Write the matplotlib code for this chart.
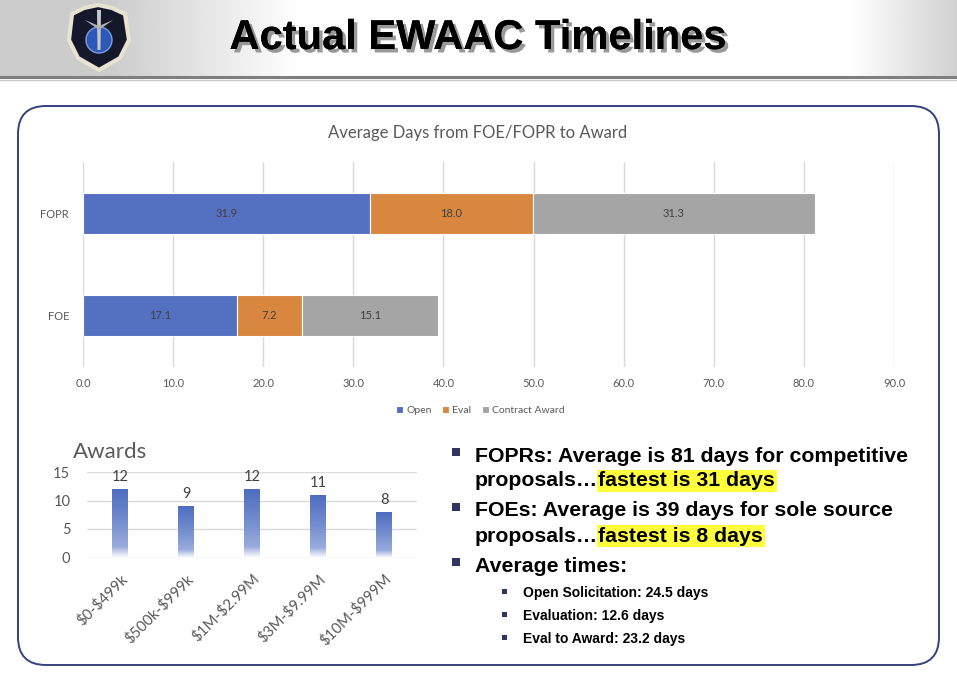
import numpy as np
import matplotlib
matplotlib.use("Agg")
import matplotlib.pyplot as plt
from matplotlib.patches import FancyBboxPatch, Rectangle, Polygon, Circle
from matplotlib.colors import LinearSegmentedColormap
import matplotlib.patheffects as pe

# ---------------- data ----------------
timeline_categories = ["FOE", "FOPR"]
open_days = [17.1, 31.9]
eval_days = [7.2, 18.0]
award_days = [15.1, 31.3]
series_names = ["Open", "Eval", "Contract Award"]
x_ticks = [0, 10, 20, 30, 40, 50, 60, 70, 80, 90]

award_categories = ["$0-$499k", "$500k-$999k", "$1M-$2.99M", "$3M-$9.99M", "$10M-$999M"]
award_counts = [12, 9, 12, 11, 8]
award_yticks = [0, 5, 10, 15]

title = "Actual EWAAC Timelines"
chart_title = "Average Days from FOE/FOPR to Award"
awards_title = "Awards"

# ---------------- figure ----------------
W, H = 957, 682
fig = plt.figure(figsize=(W / 100, H / 100), dpi=100)
fig.patch.set_facecolor("white")

bg = fig.add_axes([0, 0, 1, 1], zorder=0)
bg.set_xlim(0, W)
bg.set_ylim(H, 0)
bg.axis("off")

# header gradient
xs = np.linspace(0, W, 600)
left = np.clip((xs - 110) / (300 - 110), 0, 1)
right = np.clip((xs - 850) / (957 - 850), 0, 1)
g = 1 - 0.2 * (1 - left) - 0.18 * right
bg.imshow(np.tile(g, (2, 1)), extent=(0, W, 77, 0), cmap="gray", vmin=0, vmax=1,
          aspect="auto", zorder=0)
bg.plot([0, W], [77, 77], color="#7F7F7F", lw=2.2, zorder=1)
bg.plot([0, W], [79.5, 79.5], color="#C8C8C8", lw=1, zorder=1)

# simple shield logo
shield = Polygon([(72, 14), (84, 8), (98, 5), (112, 8), (125, 14), (129, 40), (120, 58), (99, 70), (78, 58), (69, 40)],
                 closed=True, facecolor="#15182A", edgecolor="#E8E2D0", lw=3, zorder=2)
bg.add_patch(shield)
bg.add_patch(Circle((99, 40), 13, facecolor="#2E58B8", edgecolor="#7E9CDB", lw=1, zorder=3))
bg.add_patch(Polygon([(97, 10), (101, 10), (100.5, 50), (97.5, 50)], facecolor="#C8C8C8", zorder=4))
bg.add_patch(Polygon([(85, 20), (99, 30), (113, 20), (99, 26)], facecolor="#B0B0B0", zorder=4))

bg.text(478, 38, title, ha="center", va="center", fontsize=30, fontweight="bold",
        family="Liberation Sans", color="black", zorder=5,
        path_effects=[pe.withSimplePatchShadow(offset=(2.5, -2.5), shadow_rgbFace="#808080", alpha=0.8),
                      pe.Normal()])

# rounded frame
frame = FancyBboxPatch((18, 106), 921, 559, boxstyle="round,pad=0,rounding_size=28",
                       facecolor="white", edgecolor="#33427D", lw=1.4, zorder=1)
bg.add_patch(frame)

# ---------------- top stacked bar chart ----------------
gray_txt = "#595959"
c_open, c_eval, c_award = "#5470C0", "#D9873F", "#A5A5A5"

ax = fig.add_axes([83 / W, 1 - 367 / H, (894 - 83) / W, (367 - 162) / H], zorder=2)
ax.patch.set_alpha(0)
y = np.arange(len(timeline_categories))
b1 = ax.barh(y, open_days, height=0.4, color=c_open, edgecolor="white", lw=0.8, label=series_names[0], zorder=3)
b2 = ax.barh(y, eval_days, left=open_days, height=0.4, color=c_eval, edgecolor="white", lw=0.8,
             label=series_names[1], zorder=3)
left2 = [a + b for a, b in zip(open_days, eval_days)]
b3 = ax.barh(y, award_days, left=left2, height=0.4, color=c_award, edgecolor="white", lw=0.8,
             label=series_names[2], zorder=3)
for bars, vals in ((b1, open_days), (b2, eval_days), (b3, award_days)):
    ax.bar_label(bars, labels=[f"{v:.1f}" for v in vals], label_type="center",
                 fontsize=8, color="#404040", family="Lato")
ax.set_xlim(0, 90)
ax.set_ylim(-0.5, 1.5)
ax.set_xticks(x_ticks)
ax.set_xticklabels([f"{v:.1f}" for v in x_ticks], fontsize=8, color=gray_txt, family="Lato")
ax.set_yticks(y)
ax.set_yticklabels(timeline_categories, fontsize=8, color=gray_txt, family="Lato")
ax.tick_params(length=0, pad=8)
ax.tick_params(axis="y", pad=10)
ax.grid(axis="x", color="#D9D9D9", lw=1, zorder=0)
for s in ax.spines.values():
    s.set_visible(False)
ax.legend(loc="upper center", bbox_to_anchor=(0.49, -0.145), ncol=3, frameon=False,
          prop={"family": "Lato", "size": 7.5}, labelcolor=gray_txt, handlelength=0.7,
          handleheight=0.7, handletextpad=0.3, columnspacing=1.0)
fig.text(478 / W, 1 - 133 / H, chart_title, ha="center", va="center", fontsize=12,
         color=gray_txt, family="Lato")

# ---------------- awards chart ----------------
ax2 = fig.add_axes([87 / W, 1 - 557.5 / H, (417 - 87) / W, (557.5 - 472) / H], zorder=2)
ax2.patch.set_alpha(0)
xa = np.arange(len(award_categories))
bars = ax2.bar(xa, award_counts, width=0.23, color="none", edgecolor="none", zorder=3)
cmap = LinearSegmentedColormap.from_list(
    "fade", [(0.0, "#FFFFFF"), (0.06, "#DDE3F3"), (0.16, "#9AACDD"), (0.5, "#7790D0"), (1.0, "#4E6DC0")])
grad = np.linspace(0, 1, 256).reshape(-1, 1)
for r in bars:
    x0, w, h = r.get_x(), r.get_width(), r.get_height()
    im = ax2.imshow(grad, extent=[x0, x0 + w, 0, h], origin="lower", aspect="auto",
                    cmap=cmap, zorder=3)
    im.set_clip_path(r)
for xi, v in zip(xa, award_counts):
    ax2.annotate(str(v), (xi, v), xytext=(0, 3.5), textcoords="offset points", ha="center",
                 va="bottom", fontsize=10.5, color="#404040", family="Lato")
ax2.set_xlim(-0.5, len(award_categories) - 0.5)
ax2.set_ylim(0, 15)
ax2.set_yticks(award_yticks)
ax2.set_yticklabels([str(v) for v in award_yticks], fontsize=10.5, color=gray_txt, family="Lato")
ax2.set_xticks(xa)
ax2.set_xticklabels([c.replace("$", r"\$") for c in award_categories], rotation=45, ha="right",
                    rotation_mode="anchor", fontsize=10.8, color=gray_txt, family="Lato")
ax2.tick_params(length=0)
ax2.tick_params(axis="x", pad=10)
ax2.tick_params(axis="y", pad=12)
ax2.grid(axis="y", color="#D9D9D9", lw=1, zorder=0)
ax2.set_axisbelow(True)
for s in ax2.spines.values():
    s.set_visible(False)
fig.text(73 / W, 1 - 452 / H, awards_title, ha="left", va="center", fontsize=16,
         color=gray_txt, family="Lato")

# ---------------- bullet text ----------------
navy = "#2F3561"
fk = dict(family="Liberation Sans", fontweight="bold", color="black", zorder=5)
hl = dict(boxstyle="square,pad=0.08", facecolor="#FFFF3C", edgecolor="none")
FS = 15.3


def bullet(xc, yc, size):
    bg.add_patch(Rectangle((xc - size / 2, yc - size / 2), size, size, facecolor=navy,
                           edgecolor="none", zorder=5))


bullet(456, 451.5, 8)
bg.text(475, 456, "FOPRs: Average is 81 days for competitive", va="center", ha="left", fontsize=FS, **fk)
t = bg.text(475, 481, "proposals\u2026", va="center", ha="left", fontsize=FS, **fk)
bg.annotate("fastest is 31 days", xy=(1, 0.5), xycoords=t, va="center", ha="left",
            fontsize=FS, bbox=hl, **fk)

bullet(456, 506.5, 8)
bg.text(475, 511, "FOEs: Average is 39 days for sole source", va="center", ha="left", fontsize=FS, **fk)
t = bg.text(475, 536, "proposals\u2026", va="center", ha="left", fontsize=FS, **fk)
bg.annotate("fastest is 8 days", xy=(1, 0.5), xycoords=t, va="center", ha="left",
            fontsize=FS, bbox=hl, **fk)

bullet(456, 561.5, 8)
bg.text(475, 566, "Average times:", va="center", ha="left", fontsize=FS, **fk)

for yy, s in ((593, "Open Solicitation: 24.5 days"), (616, "Evaluation: 12.6 days"),
              (639, "Eval to Award: 23.2 days")):
    bullet(504, yy - 1.5, 5)
    bg.text(523, yy, s, va="center", ha="left", fontsize=10, **fk)

fig.savefig("out.png", dpi=100)
